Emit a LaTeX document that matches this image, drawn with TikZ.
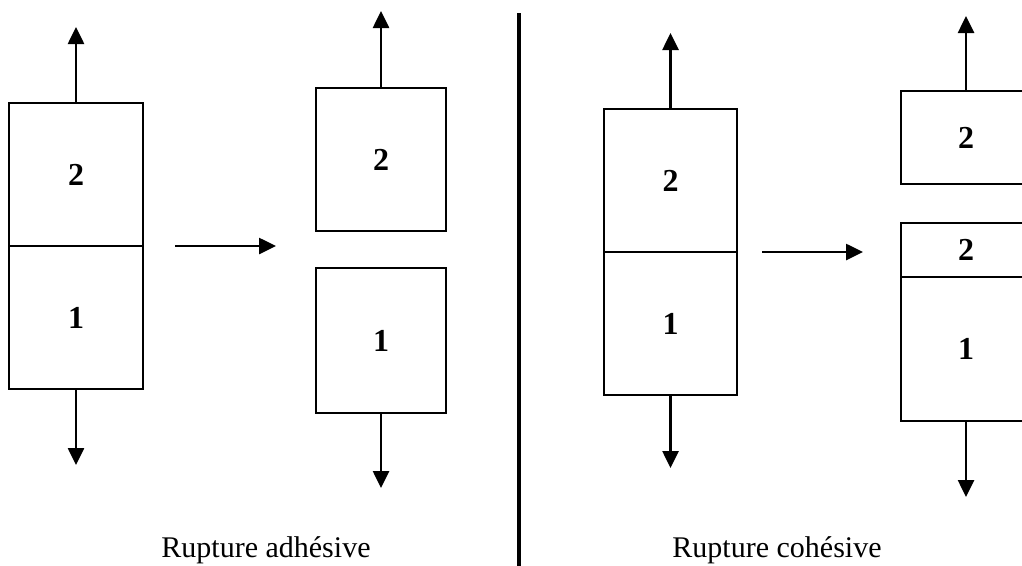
\documentclass[tikz,border=0pt]{standalone}
\usepackage{fontspec}
\setmainfont{Liberation Serif}
\usetikzlibrary{arrows.meta}
\begin{document}
\begin{tikzpicture}[x=1pt,y=-1pt,
  blk/.style={draw, line width=2.6pt, inner sep=0pt, outer sep=0pt,
    font=\fontsize{32}{32}\selectfont\bfseries},
  pull/.style={line width=2.6pt, -{Triangle[length=17pt,width=16pt]}},
  caption/.style={font=\fontsize{30}{30}\selectfont, inner sep=0pt, anchor=base}]
\useasboundingbox (0,0) rectangle (1022,565);
\clip (0,0) rectangle (1022,565);
% ---- Rupture adhesive ----
\node[blk, minimum width=134pt, minimum height=143pt] (A2) at (76,174.5) {2};
\node[blk, minimum width=134pt, minimum height=143pt] (A1) at (76,317.5) {1};
\coordinate (Atop) at (76,27);
\coordinate (Abot) at (76,465);
\draw[pull] (A2.north) -- (Atop);
\draw[pull] (A1.south) -- (Abot);
\coordinate (h1s) at (175,246);
\coordinate (h1e) at (276,246);
\draw[pull] (h1s) -- (h1e);
\node[blk, minimum width=130pt, minimum height=143pt] (B2) at (381,159.5) {2};
\node[blk, minimum width=130pt, minimum height=145pt] (C1) at (381,340.5) {1};
\coordinate (Btop) at (381,11);
\coordinate (Cbot) at (381,488);
\draw[pull] (B2.north) -- (Btop);
\draw[pull] (C1.south) -- (Cbot);
\node[caption] (capA) at (266,557) {Rupture adhésive};
% ---- divider ----
\coordinate (d1) at (519,13);
\coordinate (d2) at (519,570);
\draw[line width=3.2pt] (d1) -- (d2);
% ---- Rupture cohesive ----
\node[blk, minimum width=133pt, minimum height=143pt] (D2) at (670.5,180.5) {2};
\node[blk, minimum width=133pt, minimum height=143pt] (D1) at (670.5,323.5) {1};
\coordinate (Dtop) at (670.5,33);
\coordinate (Dbot) at (670.5,468);
\draw[pull] (D2.north) -- (Dtop);
\draw[pull] (D1.south) -- (Dbot);
\coordinate (h2s) at (762,252);
\coordinate (h2e) at (863,252);
\draw[pull] (h2s) -- (h2e);
\node[blk, minimum width=130pt, minimum height=93pt] (E2) at (966,137.5) {2};
\node[blk, minimum width=130pt, minimum height=54pt] (F2) at (966,250) {2};
\node[blk, minimum width=130pt, minimum height=144pt] (F1) at (966,349) {1};
\coordinate (Etop) at (966,16);
\coordinate (Fbot) at (966,497);
\draw[pull] (E2.north) -- (Etop);
\draw[pull] (F1.south) -- (Fbot);
\node[caption] (capB) at (777,557) {Rupture cohésive};
\end{tikzpicture}
\end{document}
